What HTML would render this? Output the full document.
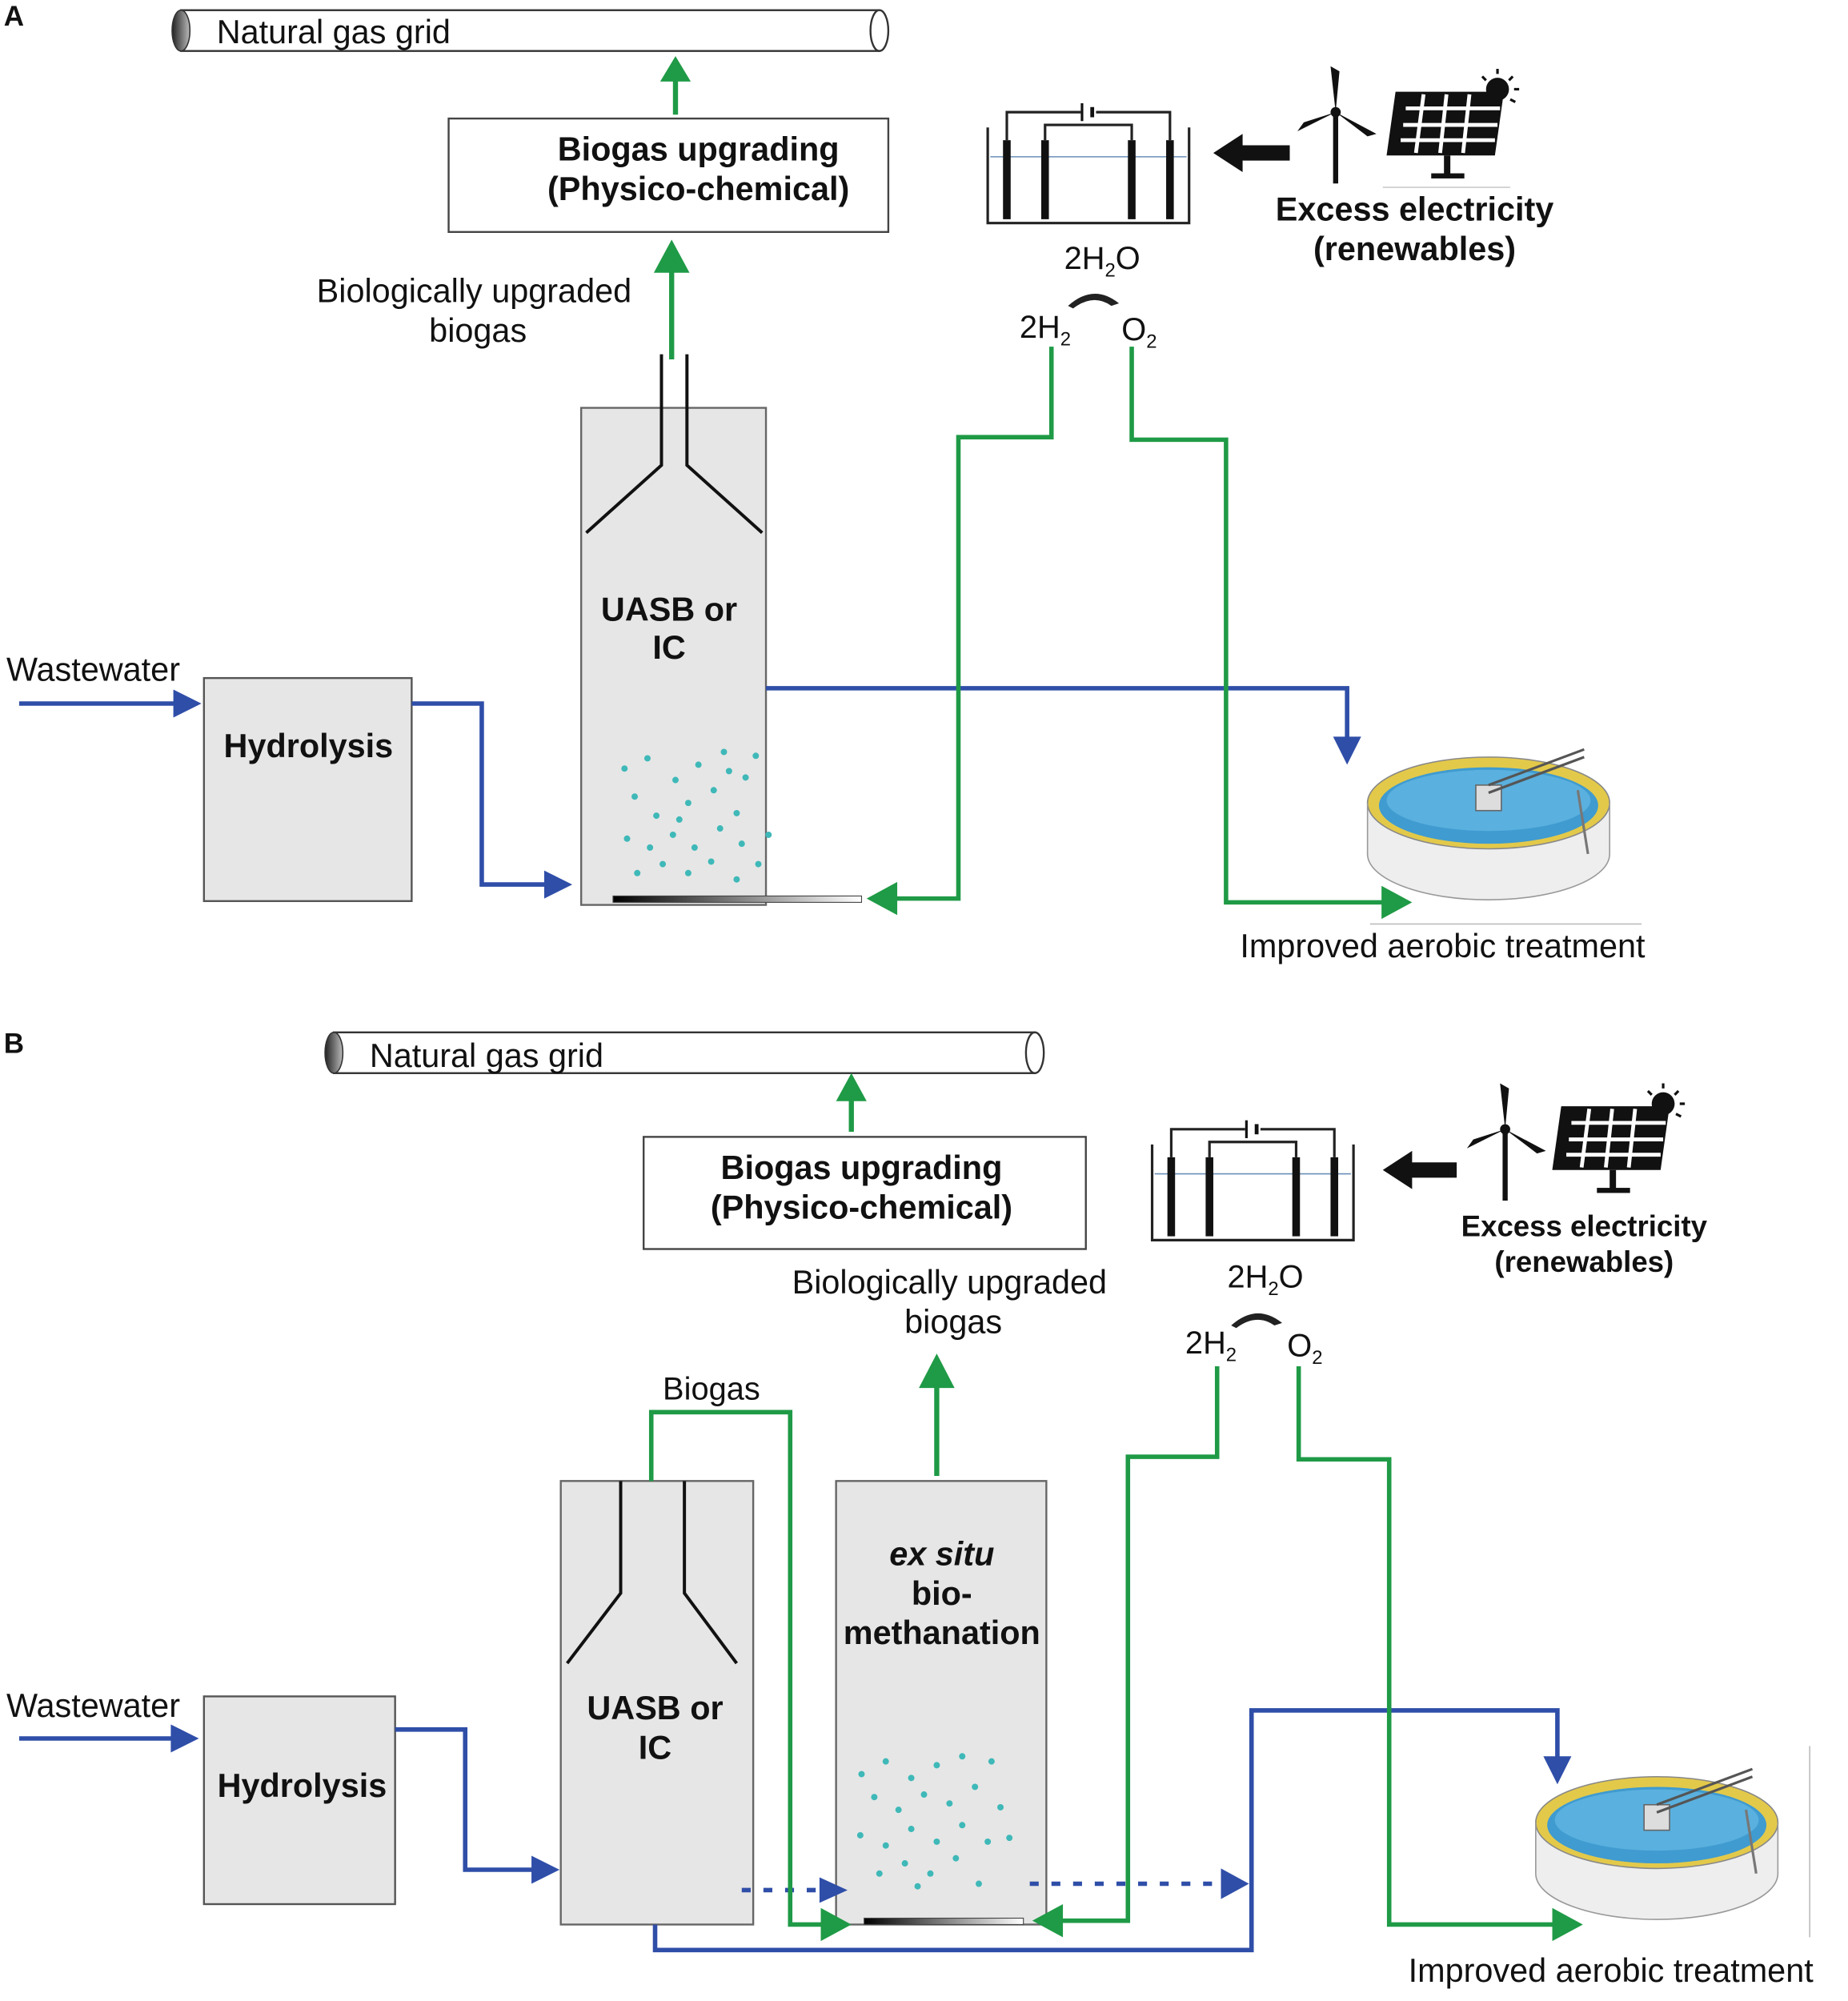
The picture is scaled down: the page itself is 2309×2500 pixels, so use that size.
<!DOCTYPE html>
<html><head><meta charset="utf-8"><style>
html,body{margin:0;padding:0;background:#fff}
svg{display:block}
text{font-family:"Liberation Sans",Arial,sans-serif;fill:#111}
.b{font-weight:bold}
</style></head><body>
<svg width="2309" height="2500" viewBox="0 0 1450 1570" xmlns="http://www.w3.org/2000/svg">
<defs>
<linearGradient id="bar" x1="0" x2="1"><stop offset="0" stop-color="#000"/><stop offset="1" stop-color="#fff"/></linearGradient>
<linearGradient id="cap" x1="0" x2="1"><stop offset="0" stop-color="#222"/><stop offset="1" stop-color="#bbb"/></linearGradient>
<g id="tank">
<ellipse cx="0" cy="40" rx="95" ry="36" fill="#eee" stroke="#999"/>
<rect x="-95" y="0" width="190" height="40" fill="#eee"/>
<ellipse cx="0" cy="0" rx="95" ry="36" fill="#e3c94a" stroke="#888"/>
<ellipse cx="0" cy="2" rx="86" ry="30" fill="#3f9bd0"/>
<ellipse cx="0" cy="-2" rx="80" ry="24" fill="#5ab0de"/>
<rect x="-10" y="-14" width="20" height="20" fill="#ddd" stroke="#666"/>
<path d="M0,-8 L75,-36 M0,-14 L75,-42" stroke="#555" stroke-width="2"/>
<path d="M70,-10 L78,40" stroke="#777" stroke-width="2"/>
<path d="M-95,0 L-95,40 M95,0 L95,40" stroke="#999"/>
</g>
<g id="elec">
<path d="M0,20 L0,95 L158,95 L158,20" fill="none" stroke="#222" stroke-width="2"/>
<line x1="2" y1="43" x2="156" y2="43" stroke="#6a8fb8"/>
<rect x="12" y="30" width="6" height="62" fill="#111"/>
<rect x="140" y="30" width="6" height="62" fill="#111"/>
<rect x="42" y="30" width="6" height="62" fill="#111"/>
<rect x="110" y="30" width="6" height="62" fill="#111"/>
<path d="M15,30 L15,8 L73,8 M85,8 L143,8 L143,30 M45,30 L45,18 L113,18 L113,30" fill="none" stroke="#222" stroke-width="2"/>
<line x1="74" y1="1" x2="74" y2="15" stroke="#111" stroke-width="2"/>
<line x1="82" y1="4" x2="82" y2="12" stroke="#111" stroke-width="3"/>
</g>
<g id="turb">
<line x1="0" y1="0" x2="0" y2="56" stroke="#111" stroke-width="4"/>
<path d="M0,0 L-4,-36 L3,-32 Z M0,0 L-30,15 L-25,8 Z M0,0 L32,17 L25,19 Z" fill="#111"/>
<circle cx="0" cy="0" r="4" fill="#111"/>
</g>
<g id="solar">
<rect x="0" y="0" width="85" height="50" fill="#111" transform="skewX(-8)"/>
<path d="M8,13 H82 M6,26 H80 M4,38 H78 M22,2 L16,48 M40,2 L35,48 M58,2 L53,48" stroke="#fff" stroke-width="3"/>
<rect x="38" y="50" width="5" height="16" fill="#111"/><rect x="28" y="64" width="26" height="4" fill="#111"/>
<circle cx="80" cy="-2" r="9" fill="#111"/>
<path d="M80,-18 V-14 M92,-12 L89,-9 M97,-2 H93 M68,-12 L71,-9 M94,8 L90,6" stroke="#111" stroke-width="2"/>
</g>
</defs>

<!-- ===== Panel A ===== -->
<text x="3" y="20" class="b" font-size="22">A</text>
<rect x="142" y="8" width="548" height="32" fill="#fff" stroke="#333" stroke-width="1.5"/>
<ellipse cx="142" cy="24" rx="7" ry="16" fill="url(#cap)" stroke="#333"/>
<ellipse cx="690" cy="24" rx="7" ry="16" fill="#fff" stroke="#333" stroke-width="1.5"/>
<text x="170" y="34" font-size="26">Natural gas grid</text>
<line x1="530" y1="90" x2="530" y2="60" stroke="#1f9a46" stroke-width="4"/>
<path d="M518,64 L530,44 L542,64 Z" fill="#1f9a46"/>
<rect x="352" y="93" width="345" height="89" fill="#fff" stroke="#444" stroke-width="1.5"/>
<text x="548" y="126" class="b" font-size="26" text-anchor="middle">Biogas upgrading</text>
<text x="548" y="157" class="b" font-size="26" text-anchor="middle">(Physico-chemical)</text>
<line x1="527" y1="282" x2="527" y2="210" stroke="#1f9a46" stroke-width="4"/>
<path d="M513,214 L527,188 L541,214 Z" fill="#1f9a46"/>
<text x="372" y="237" font-size="26" text-anchor="middle">Biologically upgraded</text>
<text x="375" y="268" font-size="26" text-anchor="middle">biogas</text>
<rect x="456" y="320" width="145" height="390" fill="#e6e6e6" stroke="#666" stroke-width="1.5"/>
<path d="M519,278 V365 L460,418 M539,278 V365 L598,418" fill="none" stroke="#111" stroke-width="2.5"/>
<text x="525" y="487" class="b" font-size="26" text-anchor="middle">UASB or</text>
<text x="525" y="517" class="b" font-size="26" text-anchor="middle">IC</text>
<g fill="#3fb8b8">
<circle cx="490" cy="603" r="2.5"/><circle cx="508" cy="595" r="2.5"/><circle cx="530" cy="612" r="2.5"/><circle cx="548" cy="600" r="2.5"/><circle cx="568" cy="590" r="2.5"/><circle cx="585" cy="610" r="2.5"/><circle cx="593" cy="593" r="2.5"/><circle cx="498" cy="625" r="2.5"/><circle cx="515" cy="640" r="2.5"/><circle cx="540" cy="630" r="2.5"/><circle cx="560" cy="620" r="2.5"/><circle cx="578" cy="638" r="2.5"/><circle cx="492" cy="658" r="2.5"/><circle cx="510" cy="665" r="2.5"/><circle cx="528" cy="655" r="2.5"/><circle cx="545" cy="665" r="2.5"/><circle cx="565" cy="650" r="2.5"/><circle cx="582" cy="662" r="2.5"/><circle cx="603" cy="655" r="2.5"/><circle cx="500" cy="685" r="2.5"/><circle cx="520" cy="678" r="2.5"/><circle cx="540" cy="685" r="2.5"/><circle cx="558" cy="676" r="2.5"/><circle cx="578" cy="690" r="2.5"/><circle cx="595" cy="678" r="2.5"/><circle cx="533" cy="643" r="2.5"/><circle cx="572" cy="605" r="2.5"/>
</g>
<rect x="481" y="703" width="195" height="5" fill="url(#bar)" stroke="#444" stroke-width="0.7"/>
<rect x="160" y="532" width="163" height="175" fill="#e6e6e6" stroke="#555" stroke-width="1.5"/>
<text x="242" y="594" class="b" font-size="26" text-anchor="middle">Hydrolysis</text>
<text x="5" y="534" font-size="26">Wastewater</text>
<line x1="15" y1="552" x2="140" y2="552" stroke="#2f4ea8" stroke-width="3.5"/>
<path d="M136,541 L158,552 L136,563 Z" fill="#2f4ea8"/>
<path d="M323,552 H378 V694 H430" fill="none" stroke="#2f4ea8" stroke-width="3.5"/>
<path d="M427,683 L449,694 L427,705 Z" fill="#2f4ea8"/>
<path d="M601,540 H1057 V582" fill="none" stroke="#2f4ea8" stroke-width="3.5"/>
<path d="M1046,578 L1057,600 L1068,578 Z" fill="#2f4ea8"/>
<use href="#elec" x="775" y="80"/>
<path d="M1012,114 H975 V105 L952,120 L975,135 V126 H1012 Z" fill="#111"/>
<use href="#turb" x="1048" y="88"/>
<use href="#solar" x="1095" y="72"/>
<line x1="1085" y1="147" x2="1185" y2="147" stroke="#ccc"/>
<text x="1110" y="173" class="b" font-size="26" text-anchor="middle">Excess electricity</text>
<text x="1110" y="204" class="b" font-size="26" text-anchor="middle">(renewables)</text>
<text x="835" y="211" font-size="25">2H<tspan font-size="15" dy="6">2</tspan><tspan dy="-6">O</tspan></text>
<path d="M838,240 Q858,222 878,238 L872,240 Q858,230 842,242 Z" fill="#222"/>
<text x="800" y="265" font-size="25">2H<tspan font-size="15" dy="6">2</tspan></text>
<text x="880" y="267" font-size="25">O<tspan font-size="15" dy="6">2</tspan></text>
<path d="M825,272 V343 H752 V705 H700" fill="none" stroke="#1f9a46" stroke-width="3.5"/>
<path d="M704,692 L680,705 L704,718 Z" fill="#1f9a46"/>
<path d="M888,272 V345 H962 V708 H1088" fill="none" stroke="#1f9a46" stroke-width="3.5"/>
<path d="M1084,695 L1108,708 L1084,721 Z" fill="#1f9a46"/>
<use href="#tank" x="1168" y="630"/>
<line x1="1075" y1="725" x2="1288" y2="725" stroke="#bbb"/>
<text x="973" y="751" font-size="26">Improved aerobic treatment</text>

<!-- ===== Panel B ===== -->
<text x="3" y="826" class="b" font-size="22">B</text>
<rect x="262" y="810" width="550" height="32" fill="#fff" stroke="#333" stroke-width="1.5"/>
<ellipse cx="262" cy="826" rx="7" ry="16" fill="url(#cap)" stroke="#333"/>
<ellipse cx="812" cy="826" rx="7" ry="16" fill="#fff" stroke="#333" stroke-width="1.5"/>
<text x="290" y="837" font-size="26">Natural gas grid</text>
<line x1="668" y1="888" x2="668" y2="860" stroke="#1f9a46" stroke-width="4"/>
<path d="M656,864 L668,842 L680,864 Z" fill="#1f9a46"/>
<rect x="505" y="892" width="347" height="88" fill="#fff" stroke="#444" stroke-width="1.5"/>
<text x="676" y="925" class="b" font-size="26" text-anchor="middle">Biogas upgrading</text>
<text x="676" y="956" class="b" font-size="26" text-anchor="middle">(Physico-chemical)</text>
<use href="#elec" x="904" y="878"/>
<path d="M1143,912 H1108 V903 L1085,918 L1108,933 V924 H1143 Z" fill="#111"/>
<use href="#turb" x="1181" y="886"/>
<use href="#solar" x="1225" y="868"/>
<text x="1243" y="970" class="b" font-size="23" text-anchor="middle">Excess electricity</text>
<text x="1243" y="998" class="b" font-size="23" text-anchor="middle">(renewables)</text>
<text x="963" y="1010" font-size="25">2H<tspan font-size="15" dy="6">2</tspan><tspan dy="-6">O</tspan></text>
<path d="M966,1040 Q986,1022 1006,1038 L1000,1040 Q986,1030 970,1042 Z" fill="#222"/>
<text x="930" y="1062" font-size="25">2H<tspan font-size="15" dy="6">2</tspan></text>
<text x="1010" y="1064" font-size="25">O<tspan font-size="15" dy="6">2</tspan></text>
<text x="745" y="1015" font-size="26" text-anchor="middle">Biologically upgraded</text>
<text x="748" y="1046" font-size="26" text-anchor="middle">biogas</text>
<line x1="735" y1="1158" x2="735" y2="1085" stroke="#1f9a46" stroke-width="4"/>
<path d="M721,1089 L735,1062 L749,1089 Z" fill="#1f9a46"/>
<text x="520" y="1098" font-size="25">Biogas</text>
<rect x="440" y="1162" width="151" height="348" fill="#e6e6e6" stroke="#666" stroke-width="1.5"/>
<path d="M487,1162 V1250 L445,1305 M537,1162 V1250 L578,1305" fill="none" stroke="#111" stroke-width="2.5"/>
<text x="514" y="1349" class="b" font-size="26" text-anchor="middle">UASB or</text>
<text x="514" y="1380" class="b" font-size="26" text-anchor="middle">IC</text>
<rect x="656" y="1162" width="165" height="348" fill="#e6e6e6" stroke="#666" stroke-width="1.5"/>
<text x="739" y="1228" class="b" font-size="26" font-style="italic" text-anchor="middle">ex situ</text>
<text x="739" y="1259" class="b" font-size="26" text-anchor="middle">bio-</text>
<text x="739" y="1290" class="b" font-size="26" text-anchor="middle">methanation</text>
<g fill="#3fb8b8">
<circle cx="676" cy="1392" r="2.5"/><circle cx="695" cy="1382" r="2.5"/><circle cx="715" cy="1395" r="2.5"/><circle cx="735" cy="1385" r="2.5"/><circle cx="755" cy="1378" r="2.5"/><circle cx="778" cy="1382" r="2.5"/><circle cx="686" cy="1410" r="2.5"/><circle cx="705" cy="1420" r="2.5"/><circle cx="725" cy="1408" r="2.5"/><circle cx="745" cy="1415" r="2.5"/><circle cx="765" cy="1402" r="2.5"/><circle cx="785" cy="1418" r="2.5"/><circle cx="675" cy="1440" r="2.5"/><circle cx="695" cy="1448" r="2.5"/><circle cx="715" cy="1435" r="2.5"/><circle cx="735" cy="1445" r="2.5"/><circle cx="755" cy="1432" r="2.5"/><circle cx="775" cy="1445" r="2.5"/><circle cx="792" cy="1442" r="2.5"/><circle cx="690" cy="1470" r="2.5"/><circle cx="710" cy="1462" r="2.5"/><circle cx="730" cy="1470" r="2.5"/><circle cx="750" cy="1458" r="2.5"/><circle cx="768" cy="1478" r="2.5"/><circle cx="720" cy="1480" r="2.5"/>
</g>
<rect x="678" y="1505" width="125" height="5" fill="url(#bar)" stroke="#444" stroke-width="0.7"/>
<rect x="160" y="1331" width="150" height="163" fill="#e6e6e6" stroke="#555" stroke-width="1.5"/>
<text x="237" y="1410" class="b" font-size="26" text-anchor="middle">Hydrolysis</text>
<text x="5" y="1347" font-size="26">Wastewater</text>
<line x1="15" y1="1364" x2="138" y2="1364" stroke="#2f4ea8" stroke-width="3.5"/>
<path d="M134,1353 L156,1364 L134,1375 Z" fill="#2f4ea8"/>
<path d="M310,1357 H365 V1467 H420" fill="none" stroke="#2f4ea8" stroke-width="3.5"/>
<path d="M417,1456 L439,1467 L417,1478 Z" fill="#2f4ea8"/>
<line x1="582" y1="1483" x2="645" y2="1483" stroke="#2f4ea8" stroke-width="3.5" stroke-dasharray="7,10"/>
<path d="M643,1473 L665,1483 L643,1493 Z" fill="#2f4ea8"/>
<line x1="808" y1="1478" x2="958" y2="1478" stroke="#2f4ea8" stroke-width="3.5" stroke-dasharray="7,10"/>
<path d="M958,1466 L980,1478 L958,1490 Z" fill="#2f4ea8"/>
<path d="M514,1510 V1530 H982 V1342 H1222 V1382" fill="none" stroke="#2f4ea8" stroke-width="3.5"/>
<path d="M1211,1378 L1222,1400 L1233,1378 Z" fill="#2f4ea8"/>
<path d="M511,1162 V1108 H620 V1510 H648" fill="none" stroke="#1f9a46" stroke-width="3.5"/>
<path d="M644,1497 L668,1510 L644,1523 Z" fill="#1f9a46"/>
<path d="M955,1072 V1143 H885 V1507 H830" fill="none" stroke="#1f9a46" stroke-width="3.5"/>
<path d="M834,1494 L810,1507 L834,1520 Z" fill="#1f9a46"/>
<path d="M1019,1072 V1145 H1090 V1510 H1222" fill="none" stroke="#1f9a46" stroke-width="3.5"/>
<path d="M1218,1497 L1242,1510 L1218,1523 Z" fill="#1f9a46"/>
<use href="#tank" x="1300" y="1430"/>
<line x1="1420" y1="1370" x2="1420" y2="1520" stroke="#bbb"/>
<text x="1105" y="1555" font-size="26">Improved aerobic treatment</text>
</svg>
</body></html>
